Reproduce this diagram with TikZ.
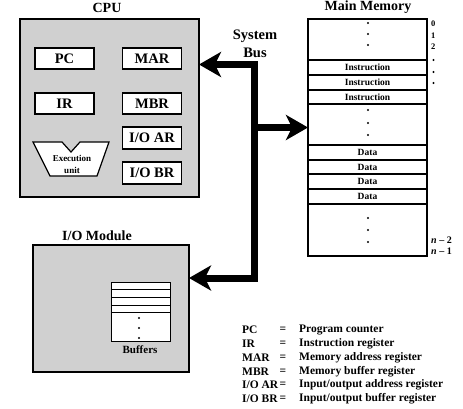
\documentclass[tikz,border=0pt]{standalone}
\usepackage{fontspec}
\setmainfont{Liberation Serif}
\usetikzlibrary{arrows.meta}
\definecolor{panelgray}{RGB}{208,208,208}
\begin{document}
\begin{tikzpicture}[x=1pt,y=-1pt,
  panel/.style={draw, line width=1.4pt, fill=panelgray, anchor=north west, inner sep=0pt, outer sep=0pt},
  reg/.style={draw, line width=1.2pt, fill=white, minimum width=59pt, minimum height=21pt, inner sep=0pt, font=\fontsize{14.5}{14}\selectfont\bfseries},
  memrow/.style={draw, line width=1.1pt, fill=white, anchor=north west, minimum width=119pt, inner sep=0pt, outer sep=0pt, font=\fontsize{9.5}{10}\selectfont\bfseries},
  bufrow/.style={draw, line width=0.9pt, fill=white, anchor=north west, minimum width=59pt, inner sep=0pt, outer sep=0pt},
  title/.style={font=\fontsize{14}{14}\selectfont\bfseries},
  addr/.style={font=\fontsize{8.5}{9}\selectfont\bfseries, anchor=west, inner sep=0pt},
  naddr/.style={font=\fontsize{10}{10}\selectfont\bfseries, anchor=west, inner sep=0pt},
  legk/.style={font=\fontsize{11.5}{12}\selectfont\bfseries, anchor=west, inner sep=0pt},
  bus/.style={line width=7pt, line join=miter},
  bushead/.style={-{Stealth[length=22pt,width=25pt,inset=6pt]}},
  busheads/.style={{Stealth[length=22pt,width=25pt,inset=6pt]}-{Stealth[length=22pt,width=25pt,inset=6pt]}}
]
\useasboundingbox (0,0) rectangle (463,409);

% CPU
\node[title] (cputitle) at (107,8) {CPU};
\node[panel, minimum width=179pt, minimum height=178pt] (cpu) at (20,19) {};
\node[reg] (pc) at (64.5,58.5) {PC};
\node[reg] (mar) at (152,58.5) {MAR};
\node[reg] (ir) at (64.5,103.5) {IR};
\node[reg] (mbr) at (152,103.5) {MBR};
\node[reg, minimum height=22pt] (ioar) at (152,138) {I/O AR};
\node[reg, minimum height=22pt] (iobr) at (152,173) {I/O BR};
\draw[line width=1.2pt, fill=white] (33,142) -- (62,142) -- (71,152) -- (80,142) -- (109,142) -- (97,176) -- (50,176) -- cycle;
\node[font=\fontsize{9}{12}\selectfont\bfseries, align=center] (exec) at (72,164) {Execution\\unit};

% System bus label
\node[font=\fontsize{14.5}{18}\selectfont\bfseries, align=center] (bustitle) at (255,44) {System\\Bus};

% Main memory
\node[title] (memtitle) at (368,7) {Main Memory};
\node[memrow, minimum height=41pt] (m0) at (308,19) {};
\node[memrow, minimum height=15pt] (m1) at (308,60) {Instruction};
\node[memrow, minimum height=15pt] (m2) at (308,75) {Instruction};
\node[memrow, minimum height=14pt] (m3) at (308,90) {Instruction};
\node[memrow, minimum height=41pt] (m4) at (308,104) {};
\node[memrow, minimum height=15pt] (m5) at (308,145) {Data};
\node[memrow, minimum height=14pt] (m6) at (308,160) {Data};
\node[memrow, minimum height=15pt] (m7) at (308,174) {Data};
\node[memrow, minimum height=15pt] (m8) at (308,189) {Data};
\node[memrow, minimum height=52pt] (m9) at (308,204) {};
\node[draw, line width=1.4pt, anchor=north west, minimum width=119pt, minimum height=237pt, inner sep=0pt, outer sep=0pt] (mem) at (308,19) {};
\foreach \y in {23,34,45,110,123,135,218,230,242} \fill (368,\y) circle (1.2pt);
\node[addr] (a0) at (431,24) {0};
\node[addr] (a1) at (431,36) {1};
\node[addr] (a2) at (431,47) {2};
\foreach \y in {60,72,83} \fill (433.5,\y) circle (1.1pt);
\node[naddr] (an2) at (431,240) {\textit{n} – 2};
\node[naddr] (an1) at (431,251) {\textit{n} – 1};

% I/O module
\node[title] (iotitle) at (97,236) {I/O Module};
\node[panel, minimum width=156pt, minimum height=127pt] (io) at (33,245) {};
\node[bufrow, minimum height=7pt] (b1) at (111,282) {};
\node[bufrow, minimum height=8pt] (b2) at (111,289) {};
\node[bufrow, minimum height=8pt] (b3) at (111,297) {};
\node[bufrow, minimum height=7pt] (b4) at (111,305) {};
\node[bufrow, minimum height=29pt] (b5) at (111,312) {};
\foreach \y in {318,328,338} \fill (139,\y) circle (1.1pt);
\node[font=\fontsize{11}{12}\selectfont\bfseries] (buftitle) at (140,350) {Buffers};

% Bus
\coordinate (bt) at (254.5,64.5);
\coordinate (bm) at (254.5,127.5);
\coordinate (bb) at (254.5,278);
\draw[bus, busheads] (cpu.east |- bt) -- (bt) -- (bb) -- (io.east |- bb);
\draw[bus, bushead] (bm) -- (mem.west |- bm);

% Legend
\node[legk] (k1) at (242,330) {PC};
\node[legk] (k2) at (242,343.8) {IR};
\node[legk] (k3) at (242,357.6) {MAR};
\node[legk] (k4) at (242,371.4) {MBR};
\node[legk] (k5) at (242,385.2) {I/O AR};
\node[legk] (k6) at (242,399) {I/O BR};
\foreach \y [count=\i] in {330,343.8,357.6,371.4,385.2,399}
  \node[legk, anchor=center] (e\i) at (283,\y) {=};
\node[legk] (v1) at (299,330) {Program counter};
\node[legk] (v2) at (299,343.8) {Instruction register};
\node[legk] (v3) at (299,357.6) {Memory address register};
\node[legk] (v4) at (299,371.4) {Memory buffer register};
\node[legk] (v5) at (299,385.2) {Input/output address register};
\node[legk] (v6) at (299,399) {Input/output buffer register};
\end{tikzpicture}
\end{document}
